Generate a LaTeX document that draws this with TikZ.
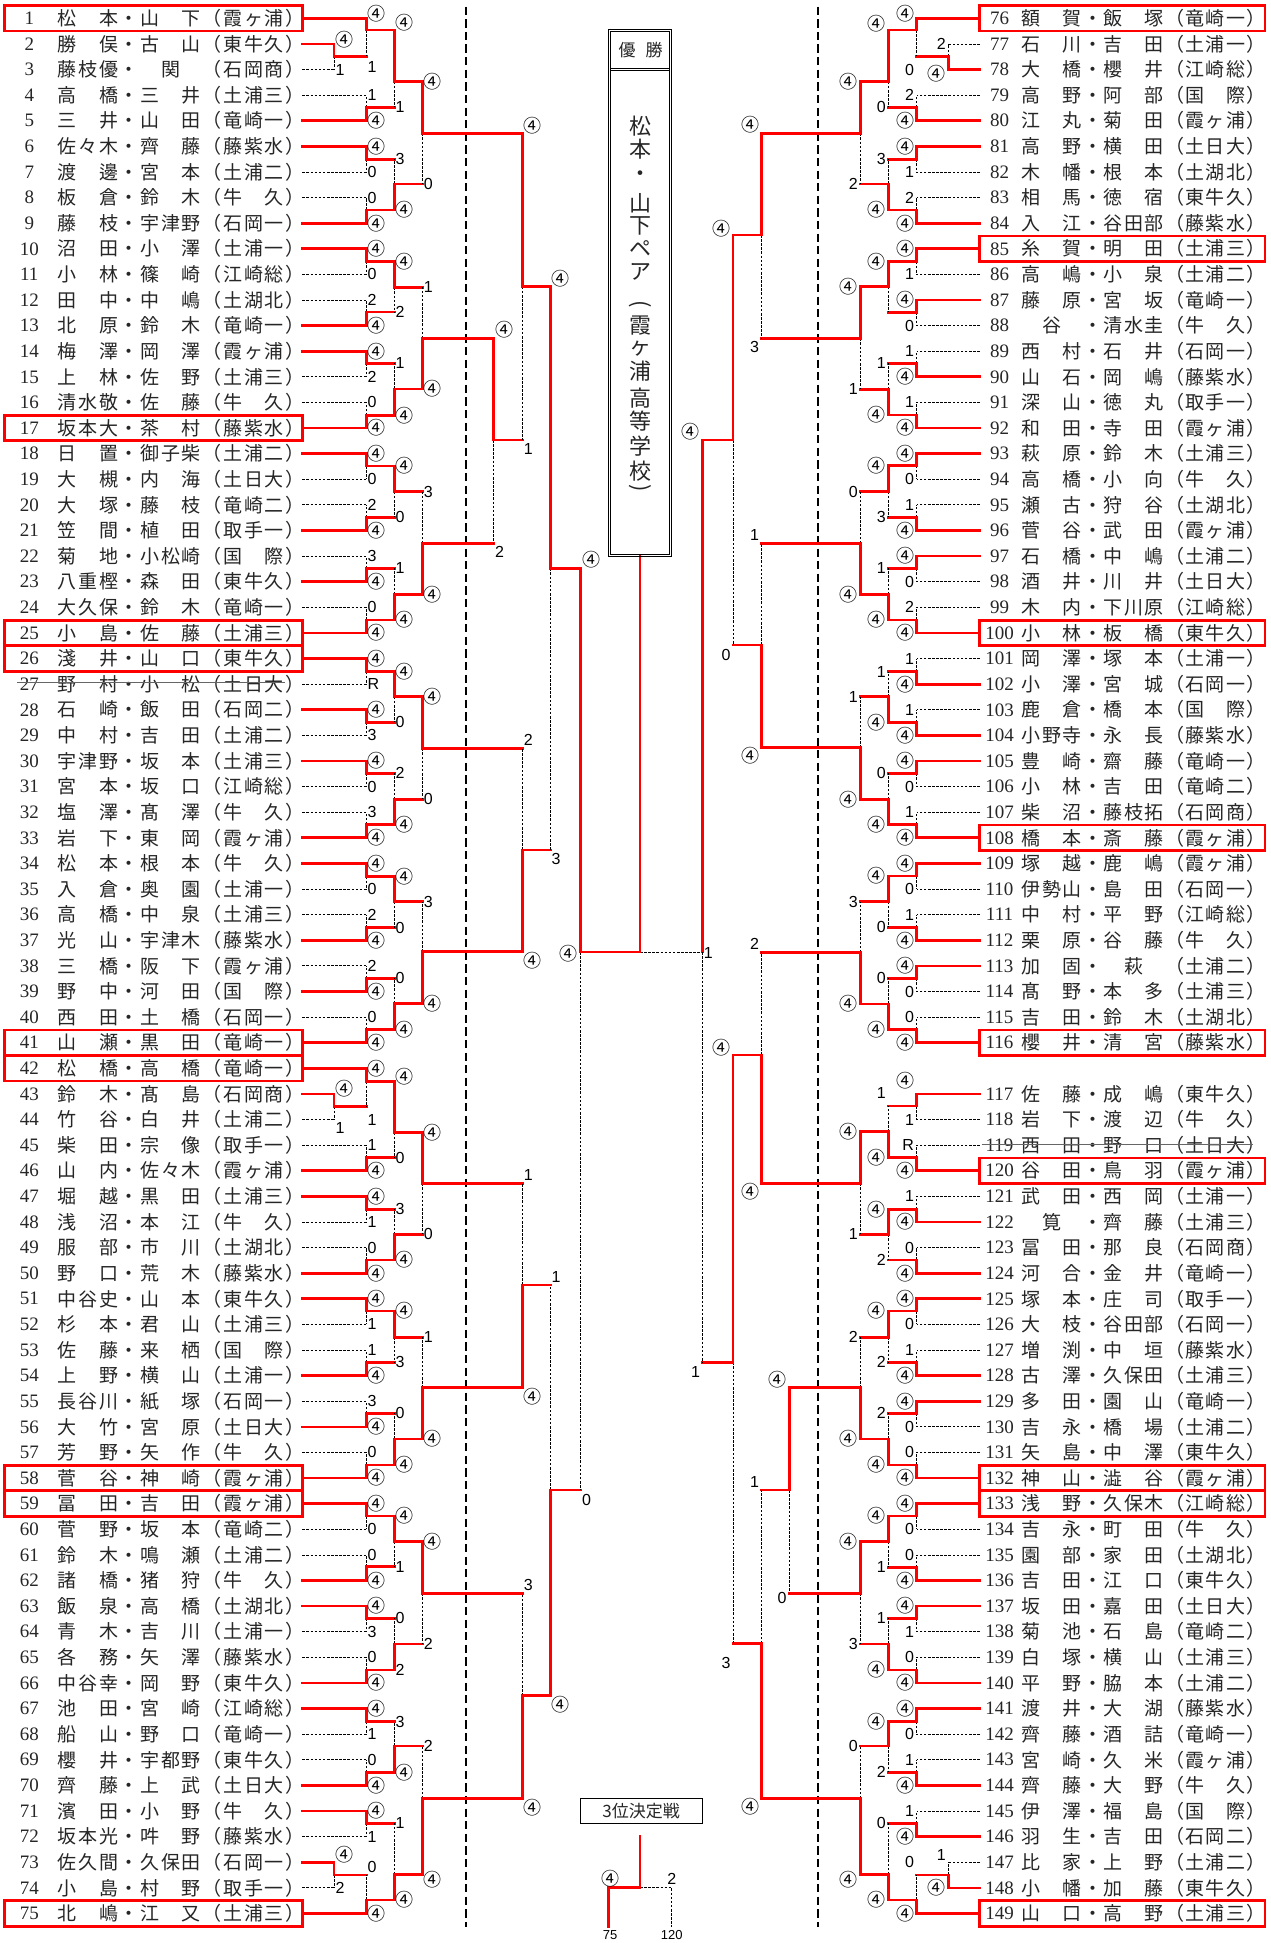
\documentclass[tikz,border=0pt]{standalone}
\usepackage{fontspec}
\newfontfamily\jp{Noto Sans CJK JP}
\newfontfamily\numf{Liberation Serif}
\newfontfamily\scf{Liberation Sans}
\makeatletter
\newdimen\chw
\def\sp@star{*}
\newcommand\spreadtxt[1]{\@tfor\sp@ch:=#1\do{\ifx\sp@ch\sp@star\hbox to\chw{\hfil}\else\hbox to\chw{\hss\sp@ch\hss}\fi}}
\makeatother
\newif\ifleftside
\newcommand\xN{302.3}\newcommand\xP{334.1}\newcommand\xA{366.2}\newcommand\xB{394.2}\newcommand\xC{422.5}
\newcommand\xD{493.7}\newcommand\xE{522.4}\newcommand\xF{550.3}\newcommand\xG{580.6}
\newcommand\rN{979.7}\newcommand\rP{948.4}\newcommand\rA{916.7}\newcommand\rB{888.4}\newcommand\rC{860.5}
\newcommand\rH{789.3}\newcommand\rD{761.8}\newcommand\rE{733.1}\newcommand\rF{702.6}
\newcommand\Wn{{\jp\fontsize{18}{18}\selectfont ④}}
\def\wl{\Wn}
\def\dyt{0}\def\dyb{0}
\newcommand\setdy[2]{\def\dyt{#1}\def\dyb{#2}}
\newcommand\Lab[3]{\ifleftside\node[lab,anchor=west] at ({#1+1.2},{#2}) {#3};\else\node[lab,anchor=east] at ({#1-2.5},{#2}) {#3};\fi}
\newcommand\Mtch[9]{%
 \if#7t
  \if#8p\draw[los] ({#4},{#5}) -- ({#1},{#5});\else\draw[win] ({#4},{#5}) -- ({#1},{#5});\fi
  \draw[los] ({#1},{#6}) -- ({#1},{#5});
  \draw[win] ({#2},{#3}) -- ({#1},{#3}) -- ({#1},{#6});
  \Lab{#1}{#3+(\dyt)}{\wl}\Lab{#1}{#5+(\dyb)}{#9}%
 \else
  \if#8p\draw[los] ({#2},{#3}) -- ({#1},{#3});\else\draw[win] ({#2},{#3}) -- ({#1},{#3});\fi
  \draw[los] ({#1},{#6}) -- ({#1},{#3});
  \draw[win] ({#4},{#5}) -- ({#1},{#5}) -- ({#1},{#6});
  \Lab{#1}{#3+(\dyt)}{#9}\Lab{#1}{#5+(\dyb)}{\wl}%
 \fi}
\newcommand\RA[4]{\Mtch{\xA}{\xN}{ry(#1)}{\xN}{ry(#1+1)}{#2}{#3}{p}{#4}}
\newcommand\RAr[4]{\Mtch{\rA}{\rN}{rr(#1)}{\rN}{rr(#1+1)}{#2}{#3}{p}{#4}}
\newcommand\RB[5]{\Mtch{\xB}{\xA}{#1}{\xA}{#2}{#3}{#4}{m}{#5}}
\newcommand\RC[5]{\Mtch{\xC}{\xB}{#1}{\xB}{#2}{#3}{#4}{m}{#5}}
\newcommand\RBr[5]{\Mtch{\rB}{\rA}{#1}{\rA}{#2}{#3}{#4}{m}{#5}}
\newcommand\RCr[5]{\Mtch{\rC}{\rB}{#1}{\rB}{#2}{#3}{#4}{m}{#5}}
\newcommand\Lrow[2]{\pgfmathsetmacro\yy{18.3+(#1-1)*25.61}%
 \node[numsty] (LN#1) at (29.3,\yy) {#1};%
 \node[namsty] (LT#1) at (56.7,\yy) {\chw=20.7pt\relax\spreadtxt{#2}};}
\newcommand\Rrow[2]{\pgfmathsetmacro\yy{18.3+(#1-76+(#1>116))*25.61}%
 \node[numsty] (RN#1) at (999.5,\yy) {#1};%
 \node[namsty] (RT#1) at (1021,\yy) {\chw=20.45pt\relax\spreadtxt{#2}};}
\newcommand\Lbox[1]{\pgfmathsetmacro\yy{18.3+(#1-1)*25.61}\draw[rbox] (4.6,{\yy-12.7}) rectangle (302.3,{\yy+12.7});}
\newcommand\Rbox[1]{\pgfmathsetmacro\yy{18.3+(#1-76+(#1>116))*25.61}\draw[rbox] (979.7,{\yy-12.7}) rectangle (1265,{\yy+12.7});}
\tikzset{
 win/.style={draw=red, line width=2.7pt, line cap=rect},
 los/.style={draw=black, line width=0.8pt, dash pattern=on 2.6pt off 1.5pt},
 divl/.style={draw=black, line width=1.9pt, dash pattern=on 8.3pt off 4.3pt},
 lab/.style={inner sep=0pt, text=black, font=\scf\fontsize{16}{16}\selectfont},
 numsty/.style={inner sep=0pt, text=black!85, font=\numf\fontsize{19}{19}\selectfont},
 namsty/.style={inner sep=0pt, anchor=west, text=black!85, text height=16pt, text depth=1.6pt, font=\jp\fontsize{19}{19}\selectfont},
 rbox/.style={draw=red, line width=2.7pt},
 vt/.style={inner sep=0pt, text=black!85, font=\jp\fontsize{22}{22}\selectfont},
}
\begin{document}
\begin{tikzpicture}[x=1pt,y=-1pt,
 declare function={ry(\i)=18.3+(\i-1)*25.61; rr(\i)=18.3+(\i-76+(\i>116))*25.61;}]
\useasboundingbox (0,0) rectangle (1271,1943);
\fill[white] (0,0) rectangle (1271,1943);
% dividers
\draw[divl] (466.1,6.7) -- (466.1,1926.7);
\draw[divl] (817.6,6.7) -- (817.6,1926.7);
% ================= LEFT BRACKET =================
\leftsidetrue
\setdy{-4.4}{0.5}\Mtch{\xP}{\xN}{ry(2)}{\xN}{ry(3)}{56.3}{t}{p}{1}
\setdy{-4.9}{8.2}\Mtch{\xP}{\xN}{ry(43)}{\xN}{ry(44)}{1106.7}{t}{p}{1}
\setdy{-7.2}{0}\Mtch{\xP}{\xN}{ry(73)}{\xN}{ry(74)}{1875}{t}{p}{2}
\setdy{-4.3}{10.4}\Mtch{\xA}{\xN}{ry(1)}{\xP}{56.3}{30}{t}{m}{1}
\setdy{0}{0}
\RA{4}{107.3}{b}{1}
\RA{6}{159.3}{t}{0}
\RA{8}{210}{b}{0}
\RA{10}{261.3}{t}{0}
\RA{12}{312}{b}{2}
\RA{14}{363.3}{t}{2}
\RA{16}{415.3}{b}{0}
\RA{18}{466}{t}{0}
\RA{20}{517.3}{b}{2}
\RA{22}{568.3}{b}{3}
\RA{24}{620}{b}{0}
\RA{26}{671.7}{t}{R}
\RA{28}{722.3}{t}{3}
\RA{30}{773.3}{t}{0}
\RA{32}{824.3}{b}{3}
\RA{34}{876.7}{t}{0}
\RA{36}{927.7}{b}{2}
\RA{38}{978.3}{b}{2}
\RA{40}{1029.3}{b}{0}
\setdy{0}{13.3}\Mtch{\xA}{\xN}{ry(42)}{\xP}{1106.7}{1081.7}{t}{m}{1}\setdy{0}{0}
\RA{45}{1157.7}{b}{1}
\RA{47}{1209.3}{t}{1}
\RA{49}{1260}{b}{0}
\RA{51}{1311}{t}{1}
\RA{53}{1362.3}{b}{1}
\RA{55}{1413.3}{b}{3}
\RA{57}{1465}{b}{0}
\RA{59}{1516}{t}{0}
\RA{61}{1566.7}{b}{0}
\RA{63}{1618.3}{t}{3}
\RA{65}{1670}{b}{0}
\RA{67}{1721.7}{t}{1}
\RA{69}{1772.3}{b}{0}
\RA{71}{1823.3}{t}{1}
\setdy{-7.6}{0}\Mtch{\xA}{\xP}{1875}{\xN}{ry(75)}{1900}{b}{m}{0}\setdy{0}{0}
% round B
\setdy{-7.3}{0}\RB{30}{107.3}{81.7}{t}{1}\setdy{0}{0}
\RB{159.3}{210}{184}{b}{3}
\RB{261.3}{312}{287.3}{t}{2}
\RB{363.3}{415.3}{389}{b}{1}
\RB{466}{517.3}{491.7}{t}{0}
\RB{568.3}{620}{594.3}{b}{1}
\RB{671.7}{722.3}{696.7}{t}{0}
\RB{773.3}{824.3}{799.3}{b}{2}
\RB{876.7}{927.7}{901.7}{t}{0}
\RB{978.3}{1029.3}{1003.3}{b}{0}
\setdy{-5}{0}\RB{1081.7}{1157.7}{1132.7}{t}{0}\setdy{0}{0}
\RB{1209.3}{1260}{1234.3}{b}{3}
\RB{1311}{1362.3}{1337.3}{t}{3}
\RB{1413.3}{1465}{1439}{b}{0}
\RB{1516}{1566.7}{1541.7}{t}{1}
\def\wl{2}\RB{1618.3}{1670}{1644}{b}{0}\def\wl{\Wn}
\RB{1721.7}{1772.3}{1746}{b}{3}
\RB{1823.3}{1900}{1874.3}{b}{1}
% round C
\RC{81.7}{184}{133.3}{t}{0}
\RC{287.3}{389}{338.3}{b}{1}
\RC{491.7}{594.3}{543.3}{b}{3}
\RC{696.7}{799.3}{748.3}{t}{0}
\RC{901.7}{1003.3}{951.7}{b}{3}
\RC{1132.7}{1234.3}{1183.3}{t}{0}
\RC{1337.3}{1439}{1387.7}{b}{1}
\RC{1541.7}{1644}{1593.3}{t}{2}
\setdy{0}{5.7}\RC{1746}{1874.3}{1798.3}{b}{2}
% later rounds
\setdy{-8.3}{8.4}\Mtch{\xD}{\xC}{338.3}{\xC}{543.3}{440}{t}{m}{2}
\setdy{-8}{9}
\Mtch{\xE}{\xC}{133.3}{\xD}{440}{286.7}{t}{m}{1}
\Mtch{\xE}{\xC}{748.3}{\xC}{951.7}{850}{b}{m}{2}
\Mtch{\xE}{\xC}{1183.3}{\xC}{1387.7}{1285}{b}{m}{1}
\Mtch{\xE}{\xC}{1593.3}{\xC}{1798.3}{1695.7}{b}{m}{3}
\Mtch{\xF}{\xE}{286.7}{\xE}{850}{568.3}{t}{m}{3}
\Mtch{\xF}{\xE}{1285}{\xE}{1695.7}{1490}{b}{m}{1}
\setdy{-8.8}{10}\Mtch{\xG}{\xF}{568.3}{\xF}{1490}{952}{t}{m}{0}
% ================= RIGHT BRACKET =================
\leftsidefalse
\setdy{0}{3.8}\Mtch{\rP}{\rN}{rr(77)}{\rN}{rr(78)}{56.3}{b}{p}{2}
\setdy{-7.2}{0}\Mtch{\rP}{\rN}{rr(147)}{\rN}{rr(148)}{1875}{b}{p}{1}
\setdy{-4.3}{13.7}\Mtch{\rA}{\rN}{rr(76)}{\rP}{56.3}{30}{t}{m}{0}\setdy{0}{0}
\RAr{79}{107.3}{b}{2}
\RAr{81}{159.3}{t}{1}
\RAr{83}{210}{b}{2}
\RAr{85}{261.7}{t}{1}
\RAr{87}{312.3}{t}{0}
\RAr{89}{363.3}{b}{1}
\RAr{91}{415}{b}{1}
\RAr{93}{465.7}{t}{0}
\RAr{95}{517.3}{b}{1}
\RAr{97}{568.3}{t}{0}
\RAr{99}{620}{b}{2}
\RAr{101}{671.7}{b}{1}
\RAr{103}{722.3}{b}{1}
\RAr{105}{773.3}{t}{0}
\RAr{107}{824.3}{b}{1}
\RAr{109}{876}{t}{0}
\RAr{111}{927.3}{b}{1}
\RAr{113}{978.3}{t}{0}
\RAr{115}{1029.3}{b}{0}
\setdy{-13.2}{0}\RAr{117}{1106}{t}{1}\setdy{0}{0}
\RAr{119}{1157.7}{b}{R}
\RAr{121}{1209.3}{b}{1}
\RAr{123}{1260}{b}{0}
\RAr{125}{1311}{t}{0}
\RAr{127}{1362.3}{b}{1}
\RAr{129}{1413.3}{t}{0}
\RAr{131}{1465}{b}{0}
\RAr{133}{1516}{t}{0}
\RAr{135}{1567.3}{b}{0}
\RAr{137}{1618.3}{t}{1}
\RAr{139}{1670}{b}{0}
\RAr{141}{1721.7}{t}{0}
\RAr{143}{1772.3}{b}{1}
\RAr{145}{1823.3}{b}{1}
\setdy{-12.6}{0}\Mtch{\rA}{\rP}{1875}{\rN}{rr(149)}{1900}{b}{m}{0}\setdy{0}{0}
% round B'
\setdy{-6.7}{0}\RBr{30}{107.3}{81.7}{t}{0}\setdy{0}{0}
\RBr{159.3}{210}{184}{b}{3}
\RBr{261.7}{312.3}{286.7}{t}{}
\RBr{363.3}{415}{389.3}{b}{1}
\RBr{465.7}{517.3}{491.7}{t}{3}
\RBr{568.3}{620}{594.3}{b}{1}
\RBr{671.7}{722.3}{696.7}{b}{1}
\RBr{773.3}{824.3}{799.3}{b}{0}
\RBr{876}{927.3}{901.7}{t}{0}
\RBr{978.3}{1029.3}{1004}{b}{0}
\setdy{-12.7}{0}\RBr{1106}{1157.7}{1131.7}{b}{1}\setdy{0}{0}
\RBr{1209.3}{1260}{1234.3}{t}{2}
\RBr{1311}{1362.3}{1337.3}{t}{2}
\RBr{1413.3}{1465}{1439}{b}{2}
\RBr{1516}{1567.3}{1541.7}{t}{1}
\RBr{1618.3}{1670}{1644}{b}{1}
\RBr{1721.7}{1772.3}{1746}{t}{2}
\RBr{1823.3}{1900}{1874.3}{b}{0}
% round C'
\RCr{81.7}{184}{133.3}{t}{2}
\RCr{286.7}{389.3}{338.3}{t}{1}
\RCr{491.7}{594.3}{543.3}{b}{0}
\RCr{696.7}{799.3}{747.7}{b}{1}
\RCr{901.7}{1004}{952.3}{b}{3}
\RCr{1131.7}{1234.3}{1183.3}{t}{1}
\RCr{1337.3}{1439}{1387.7}{b}{2}
\RCr{1541.7}{1644}{1593.3}{t}{3}
\setdy{0}{5.7}\RCr{1746}{1874.3}{1798.3}{b}{0}
% later rounds right
\setdy{-8.4}{5}\Mtch{\rH}{\rC}{1387.7}{\rC}{1593.3}{1490}{t}{m}{0}
\setdy{-8.3}{8.4}
\Mtch{\rD}{\rC}{133.3}{\rC}{338.3}{235}{t}{m}{3}
\Mtch{\rD}{\rC}{543.3}{\rC}{747.7}{645}{b}{m}{1}
\Mtch{\rD}{\rC}{952.3}{\rC}{1183.3}{1055}{b}{m}{2}
\Mtch{\rD}{\rH}{1490}{\rC}{1798.3}{1643.3}{b}{m}{1}
\setdy{-6.7}{10}\Mtch{\rE}{\rD}{235}{\rD}{645}{440}{t}{m}{0}
\setdy{-7.7}{19.4}\Mtch{\rE}{\rD}{1055}{\rD}{1643.3}{1362.3}{t}{m}{3}
\setdy{-8.3}{9.4}\Mtch{\rF}{\rE}{440}{\rE}{1362.3}{952}{t}{m}{1}
% ================= FINAL =================
\draw[los] (640,952) -- (\rF,952);
\draw[win] (\xG,952) -- (640,952) -- (640,556.8);
\node[lab] (fL) at (568.3,953.3) {\Wn};
\node[lab] (fR) at (708.3,953.3) {1};
% champion box
\draw[line width=0.9pt] (608.3,29.9) rectangle (671.7,556.8);
\draw[line width=0.9pt] (610.3,31.9) rectangle (669.7,554.8);
\draw[line width=0.9pt] (610.3,68.1) -- (669.7,68.1);
\draw[line width=0.9pt] (610.3,70.1) -- (669.7,70.1);
\node[inner sep=0pt, text=black!85, font=\jp\fontsize{17}{17}\selectfont] (yu) at (627,49.8) {優};
\node[inner sep=0pt, text=black!85, font=\jp\fontsize{17}{17}\selectfont] (sho) at (654,49.8) {勝};
\foreach \c/\vy [count=\k] in {松/126.3,本/149.3,・/176,山/202.8,下/225.8,ペ/248.8,ア/271.7,霞/325.3,ヶ/348.3,浦/371.2,高/398,等/421,学/445.8,校/470.7}
  {\node[vt] (v\k) at (640,\vy) {\c};}
\node[vt,rotate=-90] (vp1) at (640,304) {(};
\node[vt,rotate=-90] (vp2) at (640,488) {)};
% third place
\node[draw, line width=0.8pt, minimum width=122.3pt, minimum height=25pt, inner sep=0pt, text=black!85, font=\jp\fontsize{17}{17}\selectfont] (third) at (641.2,1810.8) {3位決定戦};
\draw[los] (640,1887.3) -- (671.7,1887.3) -- (671.7,1926.7);
\draw[win] (640,1836) -- (640,1887.3) -- (608.3,1887.3) -- (608.3,1926.7);
\node[lab] (t1) at (610,1879) {\Wn};
\node[lab] (t2) at (671.7,1879) {2};
\node[lab,font=\scf\fontsize{13}{13}\selectfont] (t75) at (610,1935) {75};
\node[lab,font=\scf\fontsize{13}{13}\selectfont] (t120) at (671.7,1935) {120};
% ================= NAMES LEFT =================
\Lrow{1}{松*本・山*下（霞ヶ浦）}
\Lrow{2}{勝*俣・古*山（東牛久）}
\Lrow{3}{藤枝優・*関*（石岡商）}
\Lrow{4}{高*橋・三*井（土浦三）}
\Lrow{5}{三*井・山*田（竜崎一）}
\Lrow{6}{佐々木・齊*藤（藤紫水）}
\Lrow{7}{渡*邊・宮*本（土浦二）}
\Lrow{8}{板*倉・鈴*木（牛*久）}
\Lrow{9}{藤*枝・宇津野（石岡一）}
\Lrow{10}{沼*田・小*澤（土浦一）}
\Lrow{11}{小*林・篠*崎（江崎総）}
\Lrow{12}{田*中・中*嶋（土湖北）}
\Lrow{13}{北*原・鈴*木（竜崎一）}
\Lrow{14}{梅*澤・岡*澤（霞ヶ浦）}
\Lrow{15}{上*林・佐*野（土浦三）}
\Lrow{16}{清水敬・佐*藤（牛*久）}
\Lrow{17}{坂本大・茶*村（藤紫水）}
\Lrow{18}{日*置・御子柴（土浦二）}
\Lrow{19}{大*槻・内*海（土日大）}
\Lrow{20}{大*塚・藤*枝（竜崎二）}
\Lrow{21}{笠*間・植*田（取手一）}
\Lrow{22}{菊*地・小松崎（国*際）}
\Lrow{23}{八重樫・森*田（東牛久）}
\Lrow{24}{大久保・鈴*木（竜崎一）}
\Lrow{25}{小*島・佐*藤（土浦三）}
\Lrow{26}{淺*井・山*口（東牛久）}
\Lrow{27}{野*村・小*松（土日大）}
\Lrow{28}{石*崎・飯*田（石岡二）}
\Lrow{29}{中*村・吉*田（土浦二）}
\Lrow{30}{宇津野・坂*本（土浦三）}
\Lrow{31}{宮*本・坂*口（江崎総）}
\Lrow{32}{塩*澤・髙*澤（牛*久）}
\Lrow{33}{岩*下・東*岡（霞ヶ浦）}
\Lrow{34}{松*本・根*本（牛*久）}
\Lrow{35}{入*倉・奥*園（土浦一）}
\Lrow{36}{高*橋・中*泉（土浦三）}
\Lrow{37}{光*山・宇津木（藤紫水）}
\Lrow{38}{三*橋・阪*下（霞ヶ浦）}
\Lrow{39}{野*中・河*田（国*際）}
\Lrow{40}{西*田・土*橋（石岡一）}
\Lrow{41}{山*瀬・黒*田（竜崎一）}
\Lrow{42}{松*橋・高*橋（竜崎一）}
\Lrow{43}{鈴*木・髙*島（石岡商）}
\Lrow{44}{竹*谷・白*井（土浦二）}
\Lrow{45}{柴*田・宗*像（取手一）}
\Lrow{46}{山*内・佐々木（霞ヶ浦）}
\Lrow{47}{堀*越・黒*田（土浦三）}
\Lrow{48}{浅*沼・本*江（牛*久）}
\Lrow{49}{服*部・市*川（土湖北）}
\Lrow{50}{野*口・荒*木（藤紫水）}
\Lrow{51}{中谷史・山*本（東牛久）}
\Lrow{52}{杉*本・君*山（土浦三）}
\Lrow{53}{佐*藤・来*栖（国*際）}
\Lrow{54}{上*野・横*山（土浦一）}
\Lrow{55}{長谷川・紙*塚（石岡一）}
\Lrow{56}{大*竹・宮*原（土日大）}
\Lrow{57}{芳*野・矢*作（牛*久）}
\Lrow{58}{菅*谷・神*崎（霞ヶ浦）}
\Lrow{59}{冨*田・吉*田（霞ヶ浦）}
\Lrow{60}{菅*野・坂*本（竜崎二）}
\Lrow{61}{鈴*木・鳴*瀬（土浦二）}
\Lrow{62}{諸*橋・猪*狩（牛*久）}
\Lrow{63}{飯*泉・高*橋（土湖北）}
\Lrow{64}{青*木・吉*川（土浦一）}
\Lrow{65}{各*務・矢*澤（藤紫水）}
\Lrow{66}{中谷幸・岡*野（東牛久）}
\Lrow{67}{池*田・宮*崎（江崎総）}
\Lrow{68}{船*山・野*口（竜崎一）}
\Lrow{69}{櫻*井・宇都野（東牛久）}
\Lrow{70}{齊*藤・上*武（土日大）}
\Lrow{71}{濱*田・小*野（牛*久）}
\Lrow{72}{坂本光・吽*野（藤紫水）}
\Lrow{73}{佐久間・久保田（石岡一）}
\Lrow{74}{小*島・村*野（取手一）}
\Lrow{75}{北*嶋・江*又（土浦三）}
% ================= NAMES RIGHT =================
\Rrow{76}{額*賀・飯*塚（竜崎一）}
\Rrow{77}{石*川・吉*田（土浦一）}
\Rrow{78}{大*橋・櫻*井（江崎総）}
\Rrow{79}{高*野・阿*部（国*際）}
\Rrow{80}{江*丸・菊*田（霞ヶ浦）}
\Rrow{81}{高*野・横*田（土日大）}
\Rrow{82}{木*幡・根*本（土湖北）}
\Rrow{83}{相*馬・徳*宿（東牛久）}
\Rrow{84}{入*江・谷田部（藤紫水）}
\Rrow{85}{糸*賀・明*田（土浦三）}
\Rrow{86}{高*嶋・小*泉（土浦二）}
\Rrow{87}{藤*原・宮*坂（竜崎一）}
\Rrow{88}{*谷*・清水圭（牛*久）}
\Rrow{89}{西*村・石*井（石岡一）}
\Rrow{90}{山*石・岡*嶋（藤紫水）}
\Rrow{91}{深*山・徳*丸（取手一）}
\Rrow{92}{和*田・寺*田（霞ヶ浦）}
\Rrow{93}{萩*原・鈴*木（土浦三）}
\Rrow{94}{高*橋・小*向（牛*久）}
\Rrow{95}{瀬*古・狩*谷（土湖北）}
\Rrow{96}{菅*谷・武*田（霞ヶ浦）}
\Rrow{97}{石*橋・中*嶋（土浦二）}
\Rrow{98}{酒*井・川*井（土日大）}
\Rrow{99}{木*内・下川原（江崎総）}
\Rrow{100}{小*林・板*橋（東牛久）}
\Rrow{101}{岡*澤・塚*本（土浦一）}
\Rrow{102}{小*澤・宮*城（石岡一）}
\Rrow{103}{鹿*倉・橋*本（国*際）}
\Rrow{104}{小野寺・永*長（藤紫水）}
\Rrow{105}{豊*崎・齋*藤（竜崎一）}
\Rrow{106}{小*林・吉*田（竜崎二）}
\Rrow{107}{柴*沼・藤枝拓（石岡商）}
\Rrow{108}{橋*本・斎*藤（霞ヶ浦）}
\Rrow{109}{塚*越・鹿*嶋（霞ヶ浦）}
\Rrow{110}{伊勢山・島*田（石岡一）}
\Rrow{111}{中*村・平*野（江崎総）}
\Rrow{112}{栗*原・谷*藤（牛*久）}
\Rrow{113}{加*固・*萩*（土浦二）}
\Rrow{114}{髙*野・本*多（土浦三）}
\Rrow{115}{吉*田・鈴*木（土湖北）}
\Rrow{116}{櫻*井・清*宮（藤紫水）}
\Rrow{117}{佐*藤・成*嶋（東牛久）}
\Rrow{118}{岩*下・渡*辺（牛*久）}
\Rrow{119}{西*田・野*口（土日大）}
\Rrow{120}{谷*田・鳥*羽（霞ヶ浦）}
\Rrow{121}{武*田・西*岡（土浦一）}
\Rrow{122}{*筧*・齊*藤（土浦三）}
\Rrow{123}{冨*田・那*良（石岡商）}
\Rrow{124}{河*合・金*井（竜崎一）}
\Rrow{125}{塚*本・庄*司（取手一）}
\Rrow{126}{大*枝・谷田部（石岡一）}
\Rrow{127}{増*渕・中*垣（藤紫水）}
\Rrow{128}{古*澤・久保田（土浦三）}
\Rrow{129}{多*田・園*山（竜崎一）}
\Rrow{130}{吉*永・橋*場（土浦二）}
\Rrow{131}{矢*島・中*澤（東牛久）}
\Rrow{132}{神*山・澁*谷（霞ヶ浦）}
\Rrow{133}{浅*野・久保木（江崎総）}
\Rrow{134}{吉*永・町*田（牛*久）}
\Rrow{135}{園*部・家*田（土湖北）}
\Rrow{136}{吉*田・江*口（東牛久）}
\Rrow{137}{坂*田・嘉*田（土日大）}
\Rrow{138}{菊*池・石*島（竜崎二）}
\Rrow{139}{白*塚・横*山（土浦三）}
\Rrow{140}{平*野・脇*本（土浦二）}
\Rrow{141}{渡*井・大*湖（藤紫水）}
\Rrow{142}{齊*藤・酒*詰（竜崎一）}
\Rrow{143}{宮*崎・久*米（霞ヶ浦）}
\Rrow{144}{齊*藤・大*野（牛*久）}
\Rrow{145}{伊*澤・福*島（国*際）}
\Rrow{146}{羽*生・吉*田（石岡二）}
\Rrow{147}{比*家・上*野（土浦二）}
\Rrow{148}{小*幡・加*藤（東牛久）}
\Rrow{149}{山*口・高*野（土浦三）}
% strike-through (retired)
\draw[black!60, line width=0.8pt] (17.2,682.3) -- (285,682.3);
\draw[black!60, line width=0.8pt] (981.5,1144.3) -- (1253,1144.3);
% red boxes
\Lbox{1}\Lbox{17}\Lbox{25}\Lbox{26}\Lbox{41}\Lbox{42}\Lbox{58}\Lbox{59}\Lbox{75}
\Rbox{76}\Rbox{85}\Rbox{100}\Rbox{108}\Rbox{116}\Rbox{120}\Rbox{132}\Rbox{133}\Rbox{149}
\end{tikzpicture}
\end{document}
